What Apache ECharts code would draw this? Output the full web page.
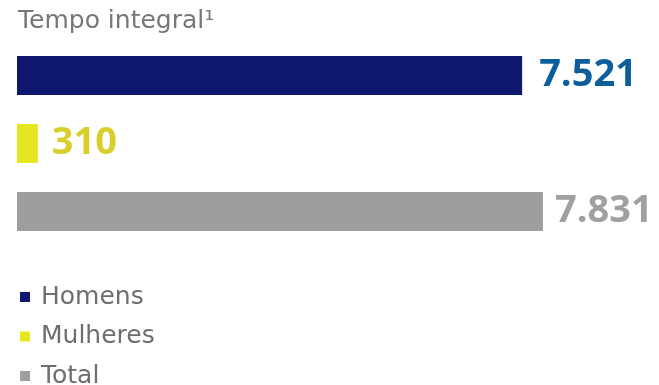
<!DOCTYPE html>
<html><head><meta charset="utf-8">
<script src="https://cdn.jsdelivr.net/npm/echarts@6/dist/echarts.min.js"></script>
<style>html,body{margin:0;padding:0;background:#fff}#c{width:659px;height:385px}</style>
</head><body><div id="c"></div>
<script>
const categories = ['Homens', 'Mulheres', 'Total'];
const values = [7521, 310, 7831];
const barColors = ['#10176e', '#e6e620', '#9e9e9e'];
const labelColors = ['#0b5e9c', '#d9cf2c', '#a0a0a0'];
const labelDistances = [17, 14, 12];
const titleText = 'Tempo integral¹';

const FONT = 'Open Sans';
const TFONT = 'DejaVu Sans';
const series = categories.map((name, i) => ({
  name: name,
  type: 'bar',
  barWidth: 39,
  barGap: '-100%',
  itemStyle: { color: barColors[i] },
  label: {
    show: true,
    position: 'right',
    distance: labelDistances[i],
    color: labelColors[i],
    fontFamily: FONT,
    fontWeight: 'bold',
    fontSize: 38,
    formatter: p => p.value.toLocaleString('pt-BR')
  },
  data: categories.map((c, j) => (j === i ? values[i] : null))
}));

const chart = echarts.init(document.getElementById('c'), null, { renderer: 'canvas' });
chart.setOption({
  animation: false,
  title: {
    text: titleText, left: 18, top: 9, padding: 0,
    textStyle: { color: '#777', fontFamily: TFONT, fontWeight: 'normal', fontSize: 25 }
  },
  legend: {
    orient: 'vertical', left: 20, top: 284, height: 200, padding: 0,
    icon: 'rect', itemWidth: 10, itemHeight: 10, itemGap: 13.5,
    textStyle: { color: '#6e6e6e', fontFamily: TFONT, fontSize: 25, lineHeight: 26, padding: [0, 0, 0, 6] },
    data: categories
  },
  grid: { left: 17, top: 41.5, width: 537.3, height: 204, containLabel: false },
  xAxis: { type: 'value', min: 0, max: 8000, show: false },
  yAxis: { type: 'category', data: categories, inverse: true, show: false },
  series: series
});
</script></body></html>
